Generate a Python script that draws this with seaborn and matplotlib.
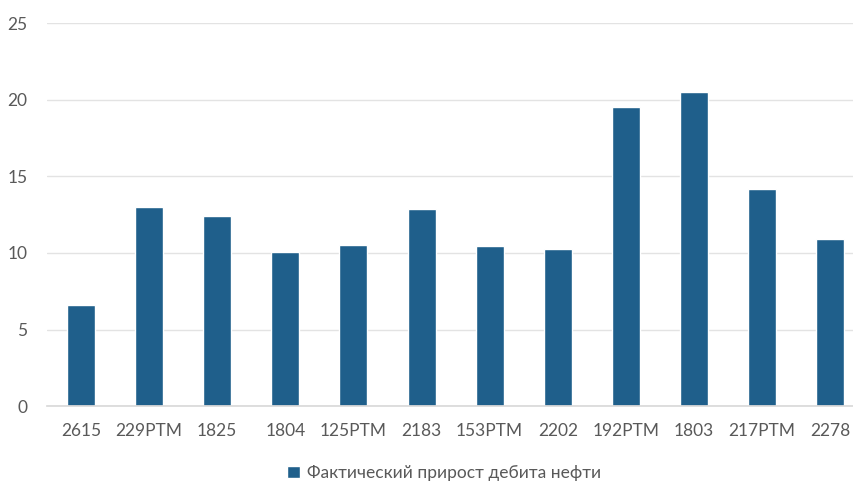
import matplotlib
matplotlib.use("Agg")
import matplotlib.pyplot as plt
import seaborn as sns
import pandas as pd

wells = ["2615", "229PTM", "1825", "1804", "125PTM", "2183", "153PTM",
         "2202", "192PTM", "1803", "217PTM", "2278"]
gain = [6.6, 13.0, 12.4, 10.05, 10.55, 12.9, 10.45, 10.25, 19.5, 20.5, 14.2, 10.9]
series_name = "Фактический прирост дебита нефти"
yticks = [0, 5, 10, 15, 20, 25]

df = pd.DataFrame({"well": wells, "gain": gain, "series": series_name})

sns.set_theme(style="white")
plt.rcParams["font.family"] = ["Lato", "DejaVu Sans"]

bar_color = "#1F5F8B"
text_color = "#595959"

fig = plt.figure(figsize=(8.54, 4.84), dpi=100)
ax = fig.add_axes([0.055, 0.161, 0.957, 0.791])

sns.barplot(data=df, x="well", y="gain", hue="series", palette=[bar_color],
            width=0.41, saturation=1, ax=ax, legend=True)

ax.set_ylim(0, 25)
ax.set_yticks(yticks)
ax.set_xlim(-0.5, len(wells) - 0.5)
ax.yaxis.grid(True, color="#e3e3e3", linewidth=1)
ax.set_axisbelow(True)
for side in ["top", "right", "left"]:
    ax.spines[side].set_visible(False)
ax.spines["bottom"].set_color("#d9d9d9")
ax.set_xlabel("")
ax.set_ylabel("")
ax.tick_params(axis="both", length=0, labelsize=12.5, colors=text_color)
ax.tick_params(axis="x", pad=12)
ax.tick_params(axis="y", pad=14)

# centre the legend on the figure, below the category labels
ax.legend(loc="center", bbox_to_anchor=(0.52, 0.023), bbox_transform=fig.transFigure,
          frameon=False, fontsize=12.5, labelcolor=text_color,
          handlelength=0.7, handleheight=0.7, handletextpad=0.4)

fig.savefig("out.png", dpi=100, facecolor="white")
